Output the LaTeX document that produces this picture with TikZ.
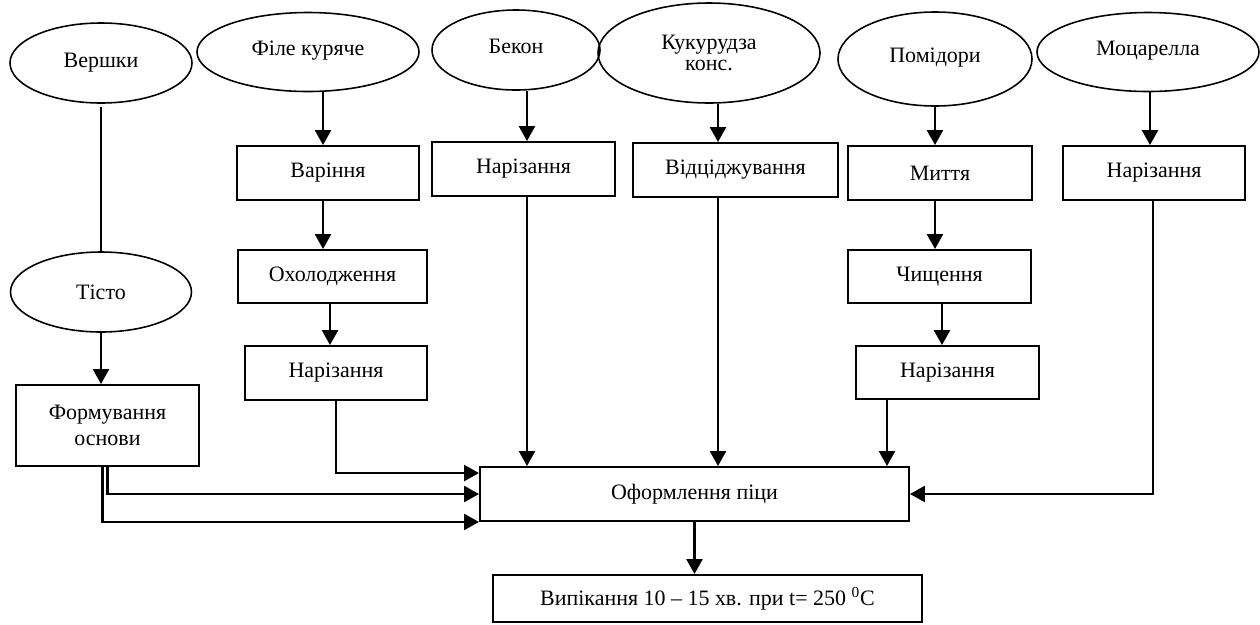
\documentclass[tikz,border=0pt]{standalone}
\usepackage{fontspec}
\setmainfont{Liberation Serif}
\usepackage{tikz}
\usetikzlibrary{arrows.meta,positioning,shapes.geometric,calc}

\begin{document}
\begin{tikzpicture}[
  x=0.2mm,y=-0.2mm,
  every node/.style={font=\fontsize{12.5}{15}\selectfont},
  ingr/.style={draw,ellipse,line width=0.9pt,inner sep=0pt,align=center},
  proc/.style={draw,line width=1.1pt,inner sep=0pt,align=center,minimum width=36.4mm,minimum height=10.8mm},
  arr/.style={-{Triangle[length=3mm,width=3.2mm]},line width=1.4pt},
  lin/.style={line width=1.4pt}
]
\useasboundingbox (0,0) rectangle (1260,624);
\node[ingr,minimum width=36.4mm,minimum height=16mm] (vershky) at (101,63) {Вершки};
\node[ingr,minimum width=44.4mm,minimum height=15.8mm] (file) at (308,52) {\raisebox{1.5mm}{Філе куряче}};
\node[ingr,minimum width=33.6mm,minimum height=16mm] (bekon) at (516,50) {\raisebox{1.5mm}{Бекон}};
\node[ingr,minimum width=44.4mm,minimum height=20mm,font=\fontsize{12.5}{11.5}\selectfont] (kukur) at (709,53) {Кукурудза\\конс.};
\node[ingr,minimum width=38.8mm,minimum height=18.8mm] (pomid) at (935,59) {\raisebox{1.5mm}{Помідори}};
\node[ingr,minimum width=44.4mm,minimum height=15.8mm] (mocar) at (1148,52) {\raisebox{1.5mm}{Моцарелла}};
\node[ingr,minimum width=36.2mm,minimum height=16mm] (tisto) at (101,292) {Тісто};
\node[proc] (varinnya) at (328,173) {Варіння};
\node[proc,minimum width=37.8mm,minimum height=10.6mm] (oholod) at (332.5,276.5) {Охолодження};
\node[proc] (narizK) at (336,373) {Нарізання};
\node[proc,minimum width=36.6mm] (narizB) at (523.5,169) {Нарізання};
\node[proc,minimum width=41mm] (vidcid) at (735.5,170) {Відціджування};
\node[proc,minimum width=36.8mm] (myttya) at (940,173) {Миття};
\node[proc,minimum width=36.6mm,minimum height=10.6mm] (chysch) at (939.5,276.5) {Чищення};
\node[proc,minimum width=36.6mm,minimum height=10.6mm] (narizP) at (947.5,372.5) {Нарізання};
\node[proc] (narizM) at (1154,173) {Нарізання};
\node[proc,minimum width=36.6mm,minimum height=16.2mm] (formuv) at (107.5,425.5) {Формування\\основи};
\node[proc,minimum width=85.8mm] (oform) at (694.5,494) {Оформлення піци};
\node[proc,minimum width=85.8mm,minimum height=9.4mm] (vypik) at (707.5,598.5) {Випікання 10 – 15 хв. при t= 250 \textsuperscript{0}C};
\draw[lin] ([yshift=-0.6mm]vershky.south) -- (vershky.south |- tisto.north);
\draw[arr] (tisto.south) -- (tisto.south |- formuv.north);
\draw[arr] ([xshift=3mm]file.south) -- ([xshift=3mm]file.south |- varinnya.north);
\draw[arr] ([xshift=-1mm]varinnya.south) -- ([xshift=-1mm]varinnya.south |- oholod.north);
\draw[arr] ([xshift=-0.5mm]oholod.south) -- ([xshift=-0.5mm]oholod.south |- narizK.north);
\draw[arr] (narizK.south) |- ([yshift=-1.4mm]oform.north west);
\draw[arr] (formuv.south) |- (oform.west);
\draw[arr] ([xshift=-1mm]formuv.south) |- (oform.south west);
\draw[arr] ([xshift=2.2mm]bekon.south) -- ([xshift=2.2mm]bekon.south |- narizB.north);
\draw[arr] ([xshift=0.7mm]narizB.south) -- ([xshift=0.7mm]narizB.south |- oform.north);
\draw[arr] ([xshift=1.8mm]kukur.south) -- ([xshift=1.8mm]kukur.south |- vidcid.north);
\draw[arr] ([xshift=-3.5mm]vidcid.south) -- ([xshift=-3.5mm]vidcid.south |- oform.north);
\draw[arr] (pomid.south) -- (pomid.south |- myttya.north);
\draw[arr] ([xshift=-1mm]myttya.south) -- ([xshift=-1mm]myttya.south |- chysch.north);
\draw[arr] ([xshift=0.5mm]chysch.south) -- ([xshift=0.5mm]chysch.south |- narizP.north);
\draw[arr] ([xshift=-12.1mm]narizP.south) -- ([xshift=-12.1mm]narizP.south |- oform.north);
\draw[arr] ([xshift=0.4mm]mocar.south) -- ([xshift=0.4mm]mocar.south |- narizM.north);
\draw[arr] ([xshift=-0.2mm]narizM.south) |- (oform.east);
\draw[arr] (oform.south) -- (oform.south |- vypik.north);
\end{tikzpicture}
\end{document}
